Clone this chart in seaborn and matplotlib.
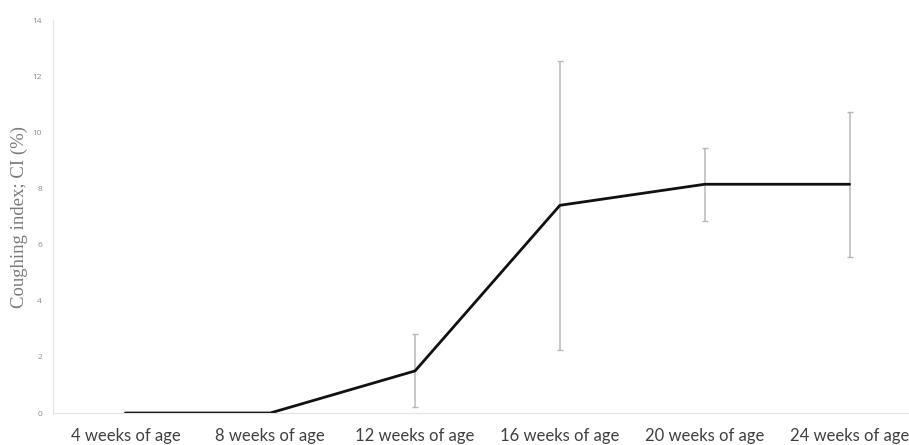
import matplotlib
matplotlib.use("Agg")
import matplotlib.pyplot as plt
import seaborn as sns
import pandas as pd

categories = ["4 weeks of age", "8 weeks of age", "12 weeks of age",
              "16 weeks of age", "20 weeks of age", "24 weeks of age"]
ci_mean = [0.0, 0.0, 1.5, 7.4, 8.15, 8.15]
ci_err = [0.0, 0.0, 1.3, 5.15, 1.3, 2.58]
y_ticks = [0, 2, 4, 6, 8, 10, 12, 14]

sns.set_theme(style="white")
plt.rcParams['font.family'] = ['DejaVu Sans']

fig = plt.figure(figsize=(9.09, 4.45), dpi=100)
ax = fig.add_axes([0.0583, 0.0719, 0.956, 0.883])

df = pd.DataFrame({"age": categories, "ci": ci_mean, "x": range(len(categories))})
sns.lineplot(data=df, x="x", y="ci", ax=ax, color="#111111", linewidth=2.0,
             sort=False, estimator=None)

for i, (m, e) in enumerate(zip(ci_mean, ci_err)):
    if e > 0:
        ax.errorbar(i, m, yerr=e, fmt="none", ecolor="#b8b8b8",
                    elinewidth=1.1, capsize=2.0, capthick=1.0, zorder=1)

ax.set_xlim(-0.5, 5.5)
ax.set_ylim(0, 14)
ax.set_yticks(y_ticks)
ax.set_yticklabels([str(t) for t in y_ticks], fontsize=6, color="#8a8a8a",
                   family=["Open Sans", "DejaVu Sans"])
ax.set_xticks(range(len(categories)))
ax.set_xticklabels(categories, fontsize=12, color="#404040",
                   family=["Lato", "DejaVu Sans"])
ax.tick_params(axis="both", length=0)
ax.tick_params(axis="x", pad=11)
ax.tick_params(axis="y", pad=8)
ax.set_xlabel("")
ax.set_ylabel("Coughing index; CI (%)", fontsize=13.5, color="#7a7a7a",
              family="Liberation Serif", labelpad=3)

for s in ["top", "right"]:
    ax.spines[s].set_visible(False)
ax.spines["left"].set_color("#e3e3e3")
ax.spines["bottom"].set_color("#e3e3e3")
ax.spines["left"].set_linewidth(0.8)
ax.spines["bottom"].set_linewidth(0.8)

fig.savefig("out.png", dpi=100)
